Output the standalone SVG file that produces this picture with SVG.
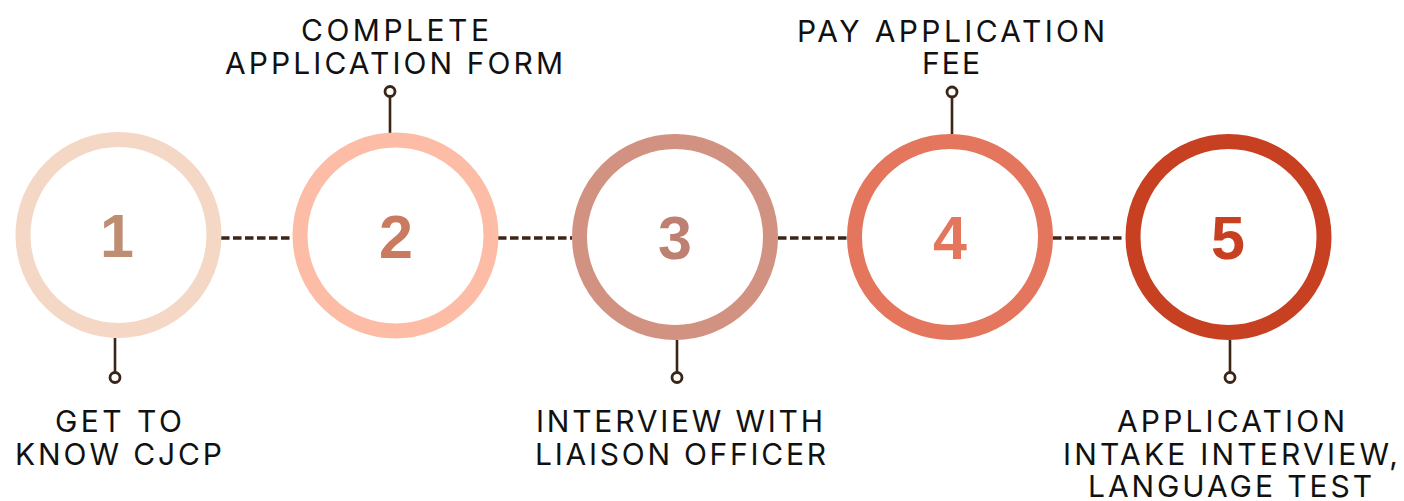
<svg xmlns="http://www.w3.org/2000/svg" width="1404" height="501" viewBox="0 0 1404 501">
<style>
.ring{fill:none;stroke-width:15}
.num{font-family:"Liberation Sans",Arial,sans-serif;font-weight:bold;font-size:61px;text-anchor:middle}
.lbl{font-family:Inter,"Liberation Sans",sans-serif;font-size:30px;fill:#111;text-anchor:middle}
.dash{stroke:#3a2516;stroke-width:3.4;stroke-dasharray:8.5 3.5;fill:none}
.stem{stroke:#3a2516;stroke-width:2.6;fill:none}
.dot{stroke:#3a2516;stroke-width:2.8;fill:#fff}
</style>
<rect width="1404" height="501" fill="#fff"/>
<g id="connectors">
<line class="dash" x1="221" y1="238" x2="293" y2="238"/>
<line class="dash" x1="498" y1="238" x2="572" y2="238"/>
<line class="dash" x1="778" y1="238" x2="847" y2="238"/>
<line class="dash" x1="1053" y1="238" x2="1125" y2="238"/>
<line class="stem" x1="115" y1="338" x2="115" y2="372"/>
<circle class="dot" cx="115" cy="377.5" r="5"/>
<line class="stem" x1="390" y1="97" x2="390" y2="133"/>
<circle class="dot" cx="390" cy="91.5" r="5"/>
<line class="stem" x1="677" y1="340" x2="677" y2="372"/>
<circle class="dot" cx="677" cy="377.5" r="5"/>
<line class="stem" x1="952" y1="97" x2="952" y2="134"/>
<circle class="dot" cx="952" cy="92" r="5"/>
<line class="stem" x1="1230" y1="340" x2="1230" y2="372"/>
<circle class="dot" cx="1230" cy="377.5" r="5"/>
</g>
<g id="step1">
<circle class="ring" cx="118.5" cy="235" r="95.5" stroke="#F4D7C5"/>
<text class="num" x="117" y="257" fill="#BE8D72">1</text>
<text class="lbl" x="118.5" y="432" textLength="127" lengthAdjust="spacing">GET TO</text>
<text class="lbl" x="118.5" y="465" textLength="207" lengthAdjust="spacing">KNOW CJCP</text>
</g>
<g id="step2">
<circle class="ring" cx="395.5" cy="235.5" r="95.5" stroke="#FDBCA6"/>
<text class="num" x="396" y="258" fill="#C97A5F">2</text>
<text class="lbl" x="395" y="41" textLength="188" lengthAdjust="spacing">COMPLETE</text>
<text class="lbl" x="394" y="74" textLength="338" lengthAdjust="spacing">APPLICATION FORM</text>
</g>
<g id="step3">
<circle class="ring" cx="675" cy="237" r="95.5" stroke="#D29282"/>
<text class="num" x="675" y="259" fill="#BE8070">3</text>
<text class="lbl" x="679.5" y="432" textLength="287" lengthAdjust="spacing">INTERVIEW WITH</text>
<text class="lbl" x="680.5" y="465" textLength="291" lengthAdjust="spacing">LIAISON OFFICER</text>
</g>
<g id="step4">
<circle class="ring" cx="950" cy="237" r="95.5" stroke="#E5765E"/>
<text class="num" x="950" y="259" fill="#E5765E">4</text>
<text class="lbl" x="951" y="42" textLength="308" lengthAdjust="spacing">PAY APPLICATION</text>
<text class="lbl" x="951" y="74" textLength="58" lengthAdjust="spacing">FEE</text>
</g>
<g id="step5">
<circle class="ring" cx="1228.5" cy="237" r="95.5" stroke="#C84022"/>
<text class="num" x="1228" y="259" fill="#C84022">5</text>
<text class="lbl" x="1231" y="432" textLength="228" lengthAdjust="spacing">APPLICATION</text>
<text class="lbl" x="1230.5" y="465" textLength="335" lengthAdjust="spacing">INTAKE INTERVIEW,</text>
<text class="lbl" x="1230" y="497" textLength="284" lengthAdjust="spacing">LANGUAGE TEST</text>
</g>
</svg>
